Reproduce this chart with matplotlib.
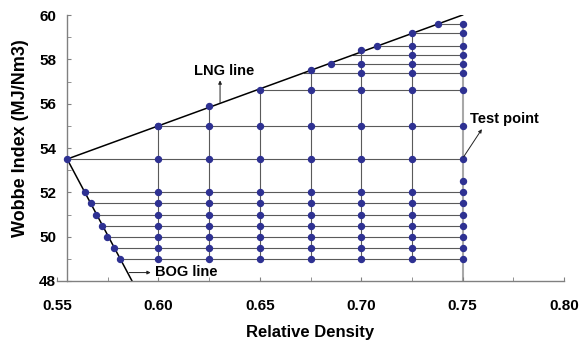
import numpy as np
import matplotlib
matplotlib.use("Agg")
import matplotlib.pyplot as plt

plt.rcParams['font.family'] = ['Liberation Sans', 'DejaVu Sans']
plt.rcParams['font.weight'] = 'bold'

# values
lng_line_x = [0.555, 0.750]
lng_line_y = [53.5, 60.0]
lng_pts_x = [0.555, 0.600, 0.625, 0.650, 0.675, 0.685, 0.700, 0.708, 0.725, 0.738]
lng_pts_y = [53.5, 55.0, 55.9, 56.6, 57.5, 57.8, 58.4, 58.6, 59.2, 59.6]

bog_line_x = [0.555, 0.587]
bog_line_y = [53.5, 48.0]
bog_pts_x = [0.5640, 0.5667, 0.5692, 0.5721, 0.5749, 0.5779, 0.5812]
bog_pts_y = [52.0, 51.5, 51.0, 50.5, 50.0, 49.5, 49.0]

cols = [0.600, 0.625, 0.650, 0.675, 0.700, 0.725, 0.750]
col_top = [55.0, 55.9, 56.6, 57.5, 58.4, 59.2, 59.6]
col_bottom = [49.0, 49.0, 49.0, 49.0, 49.0, 49.0, 48.0]

low_rows = [49.0, 49.5, 50.0, 50.5, 51.0, 51.5, 52.0, 53.5, 55.0]
low_start = bog_pts_x[::-1] + [0.555, 0.600]

upper_rows = [56.6, 57.4, 57.8, 58.2, 58.6, 59.2, 59.6]
upper_start = [0.650, 0.672, 0.685, 0.696, 0.708, 0.725, 0.738]

extra_x = [0.750]
extra_y = [52.5]

x_ticks = [0.55, 0.60, 0.65, 0.70, 0.75, 0.80]
x_minor = [0.575, 0.625, 0.675, 0.725, 0.775]
y_ticks = [48, 50, 52, 54, 56, 58, 60]
y_minor = [49, 51, 53, 55, 57, 59]

dot_color = '#2E3192'
line_grey = '#5a5a5a'

fig = plt.figure(figsize=(5.84, 3.42), dpi=100)
ax = fig.add_axes([57 / 584, 1 - 281 / 342, 507 / 584, 266 / 342])

# grid of test conditions
for c, top, bot in zip(cols, col_top, col_bottom):
    if c == cols[-1]:
        ax.plot([c, c], [bot, top], color='#a8a8a8', lw=1.5, zorder=1)
    else:
        ax.plot([c, c], [bot, top], color=line_grey, lw=0.8, zorder=1)

for r, s in zip(low_rows, low_start):
    ax.plot([s, cols[-1]], [r, r], color=line_grey, lw=0.8, zorder=1)
    ax.plot(cols, [r] * len(cols), 'o', ms=4.3, color=dot_color, zorder=3)

for r, s in zip(upper_rows, upper_start):
    ax.plot([s, cols[-1]], [r, r], color=line_grey, lw=0.8, zorder=1)
    xs = [c for c in cols if c > s + 0.004]
    ax.plot(xs, [r] * len(xs), 'o', ms=4.3, color=dot_color, zorder=3)

ax.plot(extra_x, extra_y, 'o', ms=4.3, color=dot_color, zorder=3)

# LNG and BOG boundary lines
ax.plot(lng_line_x, lng_line_y, color='black', lw=1.1, zorder=2)
ax.plot(lng_pts_x, lng_pts_y, 'o', ms=4.3, color=dot_color, zorder=3)
ax.plot(bog_line_x, bog_line_y, color='black', lw=1.1, zorder=2)
ax.plot(bog_pts_x, bog_pts_y, 'o', ms=4.3, color=dot_color, zorder=3)

arrow = dict(arrowstyle='-|>', color='#222222', lw=0.7, mutation_scale=5,
             shrinkA=0, shrinkB=0)
ax.annotate('', xy=(0.6304, 57.05), xytext=(0.6304, 56.05), arrowprops=arrow)
ax.text(0.6323, 57.15, 'LNG line', fontsize=10.5, fontweight='bold',
        ha='center', va='bottom')
ax.annotate('', xy=(0.7595, 54.85), xytext=(0.7505, 53.6), arrowprops=arrow)
ax.text(0.7535, 55.0, 'Test point', fontsize=10.5, fontweight='bold',
        ha='left', va='bottom')
ax.annotate('', xy=(0.5962, 48.38), xytext=(0.5856, 48.38), arrowprops=arrow)
ax.text(0.5983, 48.4, 'BOG line', fontsize=10.5, fontweight='bold',
        ha='left', va='center')

ax.set_xlim(0.55, 0.80)
ax.set_ylim(48, 60)
ax.spines['top'].set_visible(False)
ax.spines['right'].set_visible(False)
ax.spines['left'].set_position(('data', 0.555))
for side in ['left', 'bottom']:
    ax.spines[side].set_color('#808080')
    ax.spines[side].set_linewidth(1.0)

ax.set_xticks(x_ticks)
ax.set_xticklabels(['%.2f' % v for v in x_ticks])
ax.set_xticks(x_minor, minor=True)
ax.set_yticks(y_ticks)
ax.set_yticklabels([str(v) for v in y_ticks])
ax.set_yticks(y_minor, minor=True)
ax.tick_params(axis='both', which='both', direction='in', length=3,
               color='#808080', labelsize=11)
ax.tick_params(axis='x', which='major', pad=13)
ax.tick_params(axis='y', which='major', pad=8)
for lab in ax.get_xticklabels() + ax.get_yticklabels():
    lab.set_fontweight('bold')

ax.set_xlabel('Relative Density', fontsize=12, fontweight='bold')
ax.xaxis.set_label_coords(0.5, (281 - 325) / 266)
ax.set_ylabel('Wobbe Index (MJ/Nm3)', fontsize=13, fontweight='bold')
ax.yaxis.set_label_coords((29 - 57) / 507, (281 - 138) / 266)

fig.savefig('out.png', dpi=100)
